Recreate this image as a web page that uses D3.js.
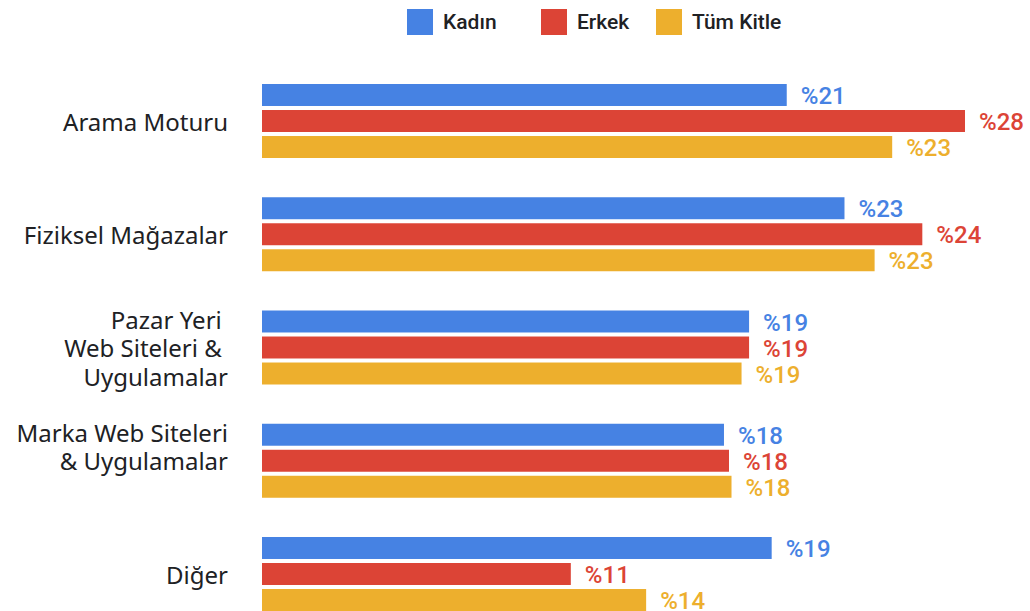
<!DOCTYPE html>
<html>
<head>
<meta charset="utf-8">
<script src="https://cdn.jsdelivr.net/npm/d3@7"></script>
<style>
  html, body { margin: 0; padding: 0; background: #fff; }
  svg { display: block; font-family: Roboto, "Noto Sans", sans-serif; }
  .cat { font-family: "Noto Sans", Roboto, sans-serif; font-size: 24px; fill: #202124; white-space: pre; }
  .val { font-size: 24px; font-weight: 500; }
  .leg { font-size: 21px; font-weight: 500; fill: #202124; }
</style>
</head>
<body>
<div id="chart"></div>
<script>
// kategoriler (satır sonları \n ile)
var categories = ['Arama Moturu', 'Fiziksel Mağazalar', 'Pazar Yeri \nWeb Siteleri & \nUygulamalar', 'Marka Web Siteleri\n& Uygulamalar\n', 'Diğer']
var seriesNames = ['Kadın', 'Erkek', 'Tüm Kitle']
var seriesColors = ['#4682E3', '#DC4436', '#EDAF2D']

// çubuk uzunlukları
var kadin = [20.9, 23.2, 19.4, 18.4, 20.3]
var erkek = [28.0, 26.3, 19.4, 18.6, 12.3]
var tumKitle = [25.1, 24.4, 19.1, 18.7, 15.3]

// çubuk yanındaki yazılar
var kadinLabels = ['%21', '%23', '%19', '%18', '%19']
var erkekLabels = ['%28', '%24', '%19', '%18', '%11']
var tumKitleLabels = ['%23', '%23', '%19', '%18', '%14']

var WIDTH = 1030
var HEIGHT = 611

var series = [
  { name: seriesNames[0], color: seriesColors[0], values: kadin, labels: kadinLabels },
  { name: seriesNames[1], color: seriesColors[1], values: erkek, labels: erkekLabels },
  { name: seriesNames[2], color: seriesColors[2], values: tumKitle, labels: tumKitleLabels }
]

var svg = d3.select('#chart').append('svg')
  .attr('width', WIDTH)
  .attr('height', HEIGHT)

var x = d3.scaleLinear().domain([0, 28]).range([262, 965])
var y = d3.scalePoint().domain(categories).range([84, 537])
var inner = d3.scaleBand().domain(seriesNames).range([0, 74]).paddingInner(0.155)
var groupH = 74

// gruplar
var groups = svg.append('g').attr('class', 'groups')
  .selectAll('g.group')
  .data(categories)
  .enter()
  .append('g')
  .attr('class', 'group')
  .attr('transform', d => 'translate(0,' + y(d) + ')')

groups.each(function (cat, i) {
  var g = d3.select(this)
  series.forEach(function (s) {
    g.append('rect')
      .attr('x', x(0))
      .attr('y', inner(s.name))
      .attr('width', x(s.values[i]) - x(0))
      .attr('height', inner.bandwidth())
      .attr('fill', s.color)
    g.append('text')
      .attr('class', 'val')
      .attr('x', x(s.values[i]) + 14)
      .attr('y', inner(s.name) + inner.bandwidth() / 2 + 0.5)
      .attr('dy', '0.36em')
      .attr('fill', s.color)
      .text(s.labels[i])
  })

  // kategori yazısı
  var lines = cat.split('\n')
  var lh = 28.5
  var t = g.append('text')
    .attr('class', 'cat')
    .attr('text-anchor', 'end')
    .attr('xml:space', 'preserve')
  lines.forEach(function (line, j) {
    t.append('tspan')
      .attr('x', 228)
      .attr('y', groupH / 2 + 1 + (j - (lines.length - 1) / 2) * lh)
      .attr('dy', '0.36em')
      .text(line)
  })
})

// lejant
var legend = svg.append('g').attr('class', 'legend')
var legX = [407, 541, 656]
series.forEach(function (s, i) {
  var lg = legend.append('g').attr('transform', 'translate(' + legX[i] + ',9)')
  lg.append('rect').attr('width', 26).attr('height', 26).attr('fill', s.color)
  lg.append('text')
    .attr('class', 'leg')
    .attr('x', 36)
    .attr('y', 12)
    .attr('dy', '0.36em')
    .text(s.name)
})
</script>
</body>
</html>
